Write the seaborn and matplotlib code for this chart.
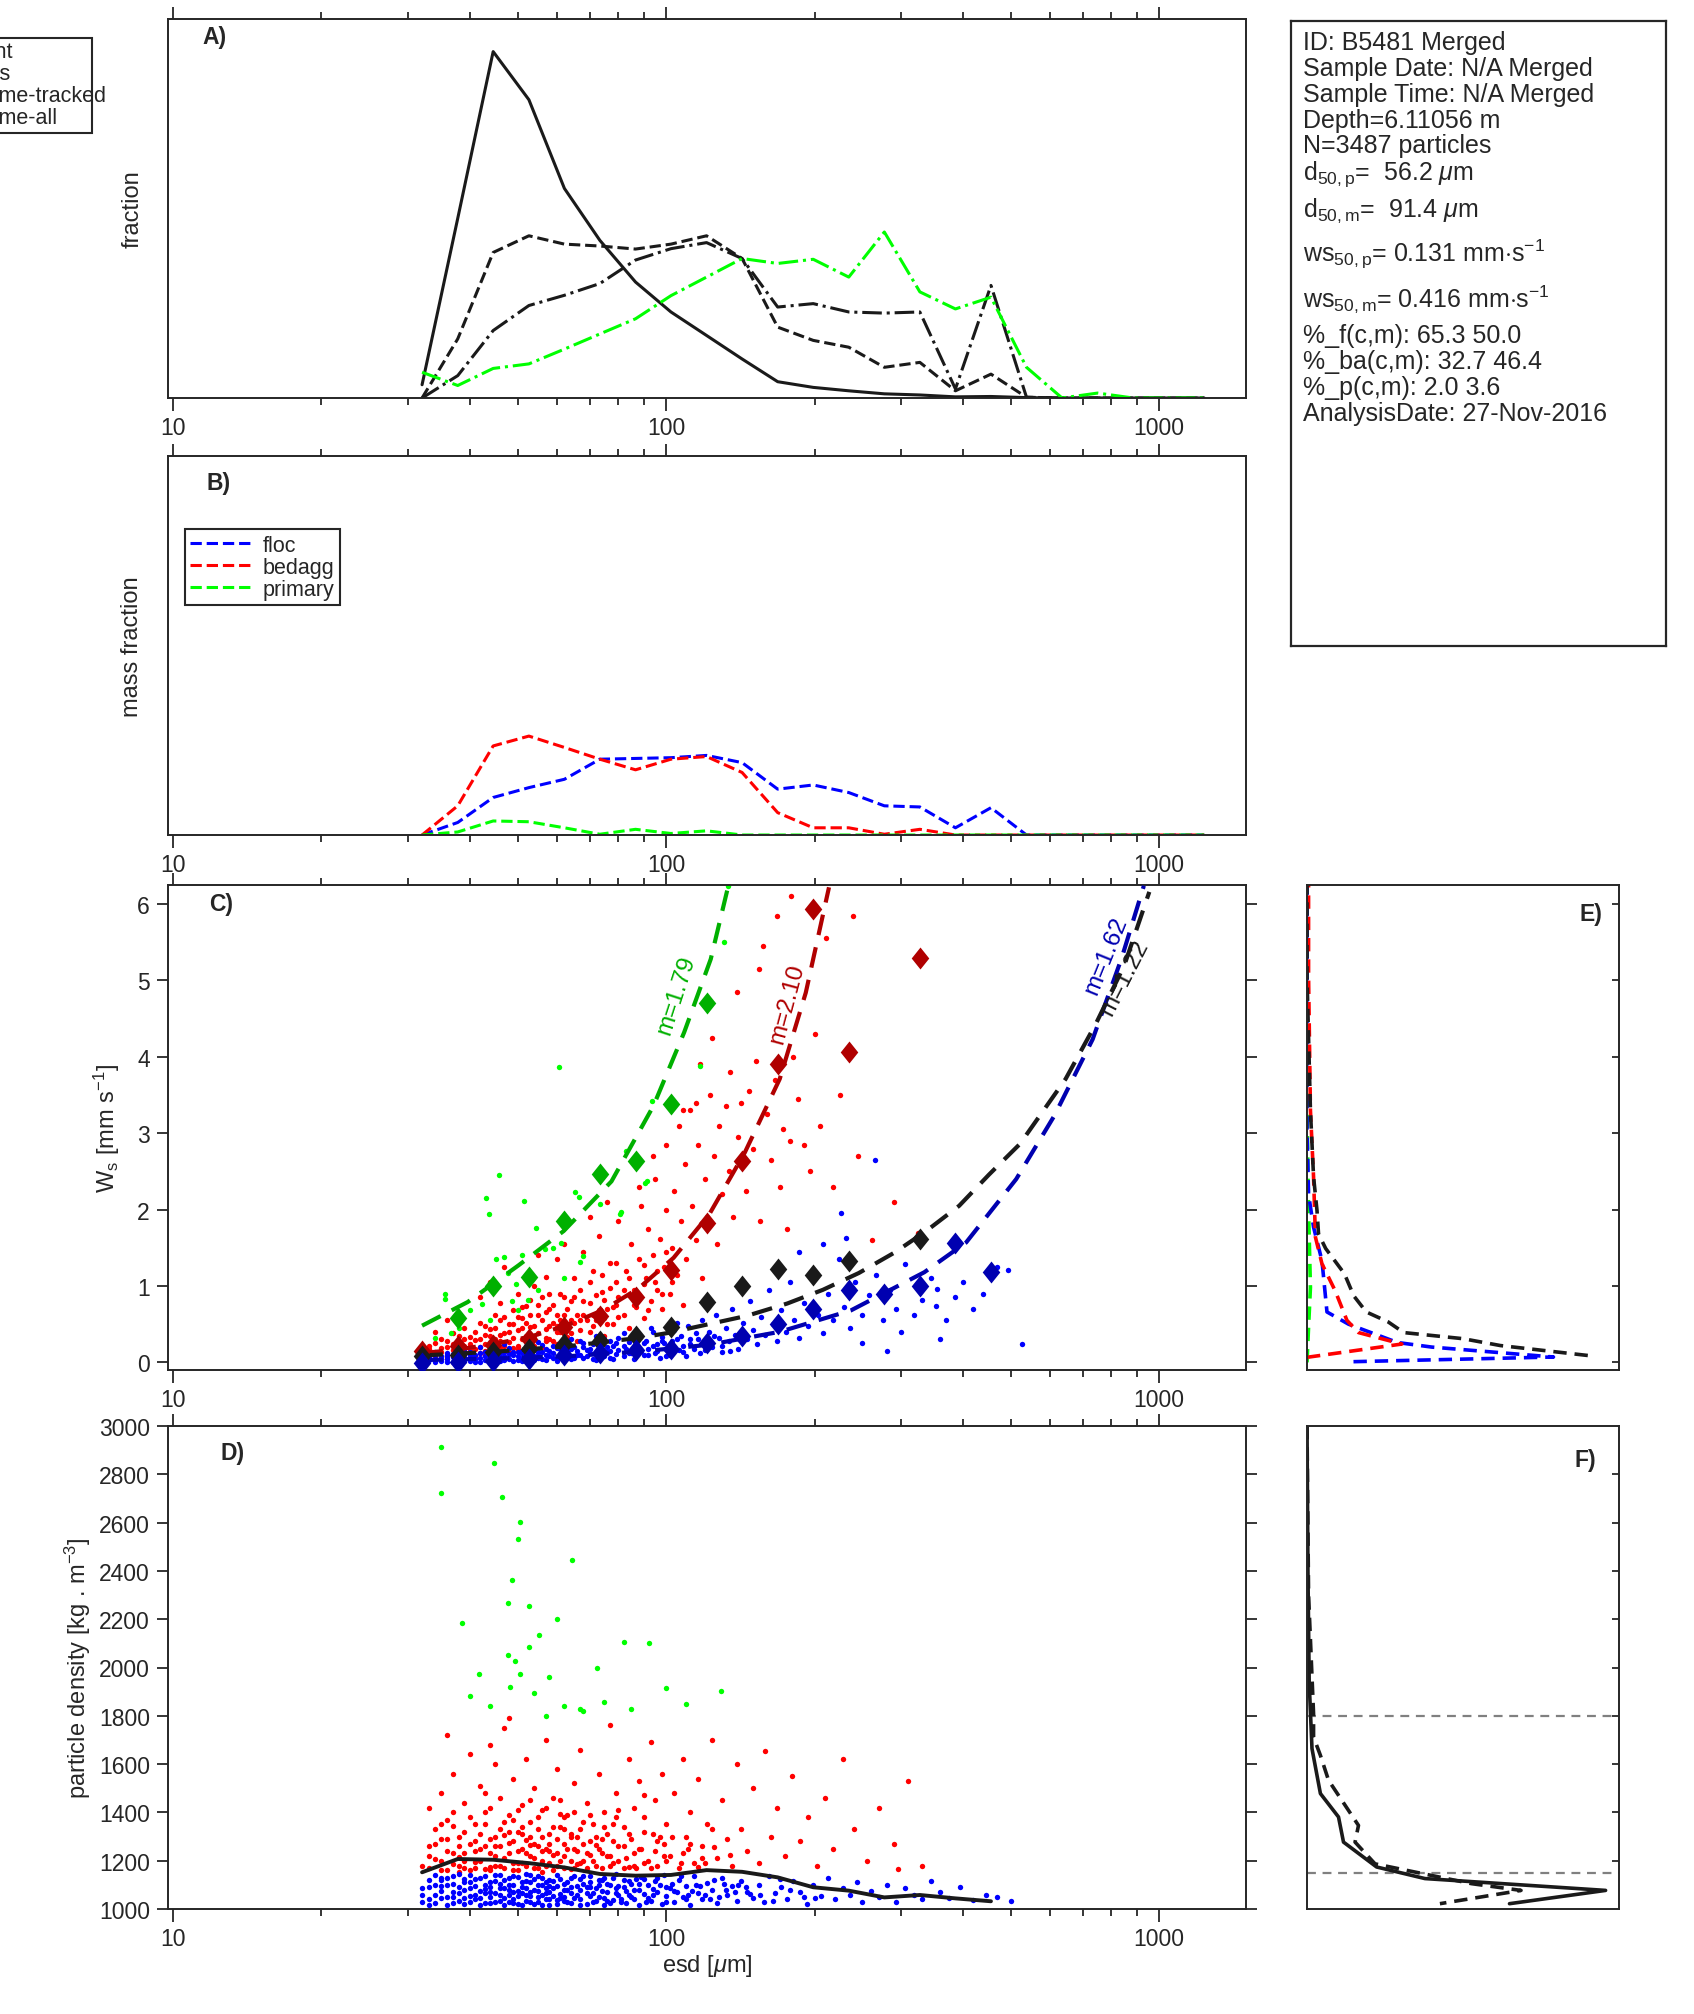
import numpy as np
import pandas as pd
import seaborn as sns
import matplotlib.pyplot as plt
from matplotlib.patches import Rectangle
from matplotlib.ticker import FixedLocator, LogLocator, NullFormatter

# ---------------- data ----------------
# size bins (esd, um) used in panels A-D
bins = [32, 37.8, 44.6, 52.7, 62.2, 73.4, 86.7, 102.3, 120.8, 142.6, 168.4, 198.8,
        234.7, 277.1, 327.1, 386.2, 455.9, 538.2, 635.4, 750.1, 885.5, 1045, 1234]

# panel A: fractions (relative to panel height)
frac_count = [0.035, 0.474, 0.914, 0.787, 0.553, 0.416, 0.306, 0.227, 0.165, 0.103, 0.043, 0.028,
              0.019, 0.011, 0.008, 0.003, 0.004, 0.001, 0, 0, 0, 0, 0]
frac_mass = [0, 0.156, 0.384, 0.428, 0.406, 0.401, 0.393, 0.406, 0.428, 0.368, 0.187, 0.152,
             0.134, 0.081, 0.094, 0.019, 0.063, 0.002, 0, 0, 0, 0, 0]
frac_vol_tracked = [0, 0.059, 0.178, 0.244, 0.271, 0.302, 0.364, 0.394, 0.410, 0.368, 0.240, 0.249,
                    0.227, 0.224, 0.227, 0.024, 0.297, 0.002, 0, 0, 0, 0, 0]
frac_vol_all = [0.068, 0.033, 0.078, 0.090, 0.129, 0.169, 0.209, 0.270, 0.319, 0.368, 0.355, 0.366,
                0.319, 0.438, 0.280, 0.235, 0.266, 0.081, 0, 0.013, 0, 0, 0]
legend_a = ['count', 'mass', 'volume-tracked', 'volume-all']

# panel B: mass fraction per class
mf_floc = [0, 0.033, 0.099, 0.125, 0.147, 0.200, 0.202, 0.204, 0.210, 0.191, 0.121, 0.132,
           0.112, 0.077, 0.074, 0.019, 0.072, 0, 0, 0, 0, 0, 0]
mf_bedagg = [0, 0.077, 0.235, 0.261, 0.231, 0.200, 0.172, 0.200, 0.207, 0.165, 0.059, 0.019,
             0.019, 0.002, 0.015, 0, 0, 0, 0, 0, 0, 0, 0]
mf_primary = [0, 0.008, 0.037, 0.035, 0.019, 0.002, 0.015, 0.004, 0.011, 0, 0, 0,
              0, 0, 0, 0, 0, 0, 0, 0, 0, 0, 0]

# panel C: settling velocity scatter (esd, ws)
c_red = [(32,0.05),(33,0.11),(33,0.18),(34,0.08),(34,0.26),(35,0.14),(35,0.31),(36,0.09),(36,0.20),(37,0.38),
         (37,0.16),(38,0.12),(38,0.27),(39,0.21),(39,0.45),(40,0.10),(40,0.33),(36,0.55),(38,0.62),(34,0.40),
         (41,0.18),(41,0.29),(42,0.52),(42,0.12),(43,0.36),(43,0.24),(44,0.15),(44,0.44),(45,0.30),(45,0.62),
         (46,0.20),(46,0.78),(47,0.38),(47,0.13),(48,0.50),(48,0.27),(49,0.68),(49,0.19),(50,0.42),(50,0.90),
         (44,1.05),(47,1.25),(42,0.85),(51,0.30),(51,0.58),(52,0.16),(52,0.74),(53,0.46),(53,0.25),(54,1.00),
         (54,0.35),(55,0.62),(56,0.20),(56,0.85),(57,0.44),(57,1.12),(58,0.30),(58,0.70),(59,0.52),(60,1.35),
         (60,0.24),(61,0.90),(61,0.40),(62,0.62),(62,1.55),(55,1.40),(63,0.33),(64,0.80),(65,0.52),(65,1.10),
         (66,0.28),(67,0.95),(68,0.62),(68,1.45),(70,0.40),(70,0.78),(71,1.20),(72,0.55),(73,1.65),(74,0.92),
         (75,0.35),(76,0.70),(77,1.30),(78,0.50),(79,1.05),(80,0.85),(80,1.85),(76,2.10),(70,1.90),(82,0.62),
         (83,1.20),(84,0.45),(85,1.55),(86,0.95),(87,0.72),(88,1.35),(89,2.05),(90,0.58),(91,1.10),(92,1.75),
         (93,0.80),(94,1.40),(95,2.40),(96,0.95),(97,1.62),(98,0.70),(99,1.25),(100,2.00),(100,2.85),(94,2.70),
         (88,2.30),(102,0.90),(103,1.50),(104,2.25),(105,1.15),(106,3.10),(107,1.85),(108,0.75),(109,2.60),(110,1.35),
         (112,3.30),(113,2.05),(115,1.60),(116,2.85),(117,3.90),(118,1.10),(120,2.40),(121,1.90),(123,3.50),(124,4.25),
         (125,2.70),(127,1.55),(128,3.10),(130,2.20),(115,3.40),(108,3.30),(132,3.35),(134,2.50),(135,3.80),(137,1.90),
         (139,4.85),(140,2.95),(142,3.40),(145,2.25),(147,3.55),(150,2.80),(152,3.95),(154,5.15),(155,1.85),(157,5.45),
         (160,3.25),(163,2.65),(166,3.70),(168,5.85),(170,2.30),(173,3.05),(176,1.75),(179,6.10),(181,4.00),(178,2.90),
         (185,3.45),(190,2.85),(196,2.50),(200,4.30),(205,3.10),(211,5.55),(218,2.29),(225,3.50),(239,5.84),(245,2.70),
         (262,1.60),(290,2.10),(325,1.70),(36,0.07),(39,0.15),(43,0.10),(46,0.28),(50,0.22),(53,0.36),(57,0.28),
         (60,0.48),(64,0.38),(67,0.55),(71,0.62),(75,0.58),(79,0.75),(84,0.88),(90,1.02),(96,1.20),(103,1.05),
         (32,0.09),(32,0.16),(33,0.22),(34,0.12),(35,0.05),(35,0.19),(36,0.28),(37,0.10),(37,0.24),(38,0.06),
         (38,0.35),(39,0.11),(39,0.30),(40,0.18),(40,0.24),(41,0.08),(41,0.40),(42,0.20),(42,0.30),(43,0.15),
         (43,0.48),(44,0.26),(44,0.34),(45,0.12),(45,0.45),(46,0.36),(46,0.55),(47,0.22),(47,0.60),(48,0.14),
         (48,0.40),(49,0.32),(49,0.50),(50,0.18),(50,0.60),(51,0.45),(51,0.72),(52,0.35),(52,0.52),(53,0.62),
         (53,0.82),(54,0.22),(54,0.48),(55,0.38),(55,0.75),(56,0.55),(57,0.32),(57,0.66),(58,0.48),(58,0.90),
         (59,0.28),(59,0.75),(60,0.62),(60,0.40),(61,0.55),(62,0.85),(62,0.45),(63,0.70),(64,0.55),(65,0.85),
         (66,0.62),(67,0.42),(68,0.80),(69,0.55),(70,1.05),(71,0.48),(72,0.88),(73,0.68),(74,1.15),(75,0.82),
         (76,0.50),(77,0.98),(78,0.72),(79,1.30),(80,0.60),(82,0.95),(84,1.10),(86,0.75),(88,0.88),(90,1.28),
         (92,0.68),(95,1.05),(98,0.90),(100,1.45)]
c_blue = [(32,0.01),(32,0.06),(33,0.03),(33,0.10),(34,0.00),(34,0.05),(35,0.08),(35,0.02),(36,0.12),(36,0.04),
          (37,0.07),(37,0.01),(38,0.10),(38,0.03),(39,0.15),(39,0.06),(40,0.02),(40,0.09),(41,0.05),(42,0.12),
          (42,0.01),(43,0.08),(44,0.04),(44,0.16),(45,0.10),(46,0.02),(46,0.07),(47,0.13),(48,0.05),(48,0.19),
          (49,0.09),(50,0.03),(50,0.14),(51,0.06),(52,0.11),(52,0.21),(53,0.02),(54,0.08),(54,0.16),(55,0.12),
          (56,0.04),(56,0.23),(57,0.09),(58,0.15),(59,0.06),(60,0.19),(60,0.02),(61,0.11),(62,0.26),(62,0.07),
          (63,0.14),(64,0.04),(65,0.20),(66,0.10),(67,0.28),(68,0.06),(69,0.16),(70,0.12),(71,0.24),(72,0.03),
          (73,0.18),(74,0.09),(75,0.30),(76,0.14),(77,0.06),(78,0.22),(79,0.11),(80,0.32),(82,0.08),(83,0.18),
          (84,0.27),(85,0.12),(86,0.05),(87,0.22),(88,0.35),(89,0.15),(90,0.09),(91,0.28),(92,0.18),(94,0.40),
          (95,0.12),(96,0.24),(97,0.06),(98,0.33),(100,0.18),(102,0.10),(103,0.28),(104,0.42),(106,0.16),(107,0.35),
          (108,0.22),(110,0.08),(111,0.48),(112,0.30),(114,0.18),(115,0.38),(117,0.12),(118,0.55),(120,0.26),(122,0.40),
          (124,0.20),(126,0.62),(128,0.32),(130,0.14),(132,0.45),(134,0.28),(136,0.70),(138,0.36),(140,0.18),(143,0.52),
          (146,0.30),(148,0.80),(150,0.42),(153,0.24),(156,0.60),(159,0.36),(162,0.95),(165,0.50),(168,0.28),(171,0.68),
          (175,0.40),(178,1.05),(182,0.55),(186,0.32),(190,0.78),(194,0.48),(198,1.20),(203,0.62),(208,0.38),(213,0.90),
          (218,0.55),(224,1.35),(230,0.72),(236,0.45),(186,1.45),(208,1.55),(226,1.95),(232,1.63),(265,2.65),(242,1.05),
          (250,0.62),(258,0.88),(266,1.15),(275,0.55),(284,0.95),(293,0.70),(305,1.29),(318,0.62),(331,0.81),(345,1.10),
          (352,0.74),(355,0.96),(370,0.55),(385,0.85),(400,1.05),(420,0.70),(440,0.90),(470,1.25),(493,1.21),(528,0.24),
          (300,0.40),(360,0.30),(250,0.25),(280,0.15),(34,0.13),(38,0.17),(42,0.20),(47,0.24),(51,0.15),(55,0.27),
          (59,0.22),(64,0.30),(68,0.25),(72,0.34),(77,0.28),(82,0.38),(86,0.30),(93,0.45),(99,0.26),(105,0.52),
          (32,0.03),(33,0.07),(34,0.09),(35,0.05),(36,0.01),(36,0.08),(37,0.11),(38,0.05),(39,0.02),(39,0.10),
          (40,0.13),(40,0.05),(41,0.09),(41,0.01),(42,0.06),(43,0.03),(43,0.14),(44,0.09),(45,0.05),(45,0.15),
          (46,0.12),(47,0.08),(47,0.03),(48,0.11),(49,0.14),(49,0.02),(50,0.08),(51,0.12),(51,0.02),(52,0.06),
          (53,0.15),(53,0.09),(54,0.03),(55,0.18),(55,0.06),(56,0.13),(57,0.03),(57,0.17),(58,0.08),(59,0.12),
          (60,0.06),(61,0.18),(62,0.14),(63,0.08),(64,0.17),(65,0.06),(66,0.15),(67,0.10),(68,0.20),(69,0.08),
          (70,0.18),(71,0.05),(72,0.14),(73,0.25),(74,0.16),(75,0.08),(76,0.20),(77,0.15),(78,0.05),(79,0.25),
          (80,0.16),(82,0.22),(84,0.12),(86,0.30),(88,0.18),(90,0.25),(92,0.10),(94,0.22),(96,0.15),(98,0.28),
          (100,0.08),(102,0.22),(105,0.30),(108,0.14),(112,0.24),(116,0.30),(120,0.16),(125,0.35),(130,0.22),(135,0.15)]
c_green = [(35.6,0.90),(35.6,0.83),(36.6,0.39),(40.1,0.68),(42.4,0.76),(43.2,2.15),(43.8,1.94),(45.9,2.45),
           (45.2,1.35),(46.9,1.38),(47.9,1.17),(48.8,0.80),(49.6,1.03),(50.2,0.68),(51.1,1.40),(51.6,2.11),
           (52.4,0.81),(54.6,1.76),(56.9,1.48),(59.1,1.50),(61.1,1.56),(65.3,2.23),(66.5,2.17),(66.8,1.31),
           (68.0,1.39),(81.1,1.97),(91.3,2.37),(60.7,3.87),(133.5,6.24),(131,5.51),(117,3.88),(93.6,3.42),
           (82.8,2.77),(90.6,2.35),(80.5,1.94),(73.5,2.07),(34,0.32),(38,0.45),(44,0.55),(55,0.95),(62,1.10)]

# panel C: bin medians (diamonds); None = no marker in that bin
dia_green = [0.58, 1.00, 1.12, 1.85, 2.47, 2.64, 3.38, 4.70]               # bins 1..8
dia_red = [0.15, 0.21, 0.23, 0.31, 0.46, 0.61, 0.86, 1.21, 1.82, 2.64, 3.90, 5.93, 4.06, None, 5.30]
dia_black = [0.08, 0.10, 0.13, 0.17, 0.24, 0.28, 0.34, 0.46, 0.79, 1.00, 1.22, 1.14, 1.33, None, 1.62]
dia_blue = [-0.01, 0.00, 0.02, 0.05, 0.09, 0.12, 0.16, 0.17, 0.26, 0.35, 0.50, 0.70, 0.95, 0.90, 1.00, 1.56, 1.18]

# panel C: fitted curves (esd, ws) and their labels
fit_green = [(32,0.48),(39.6,0.79),(50.2,1.27),(62,1.72),(77.5,2.37),(94.3,3.36),(108.8,4.32),(123.2,5.28),(133.5,6.22)]
fit_red = [(32,0.12),(38,0.17),(45.5,0.25),(53.3,0.34),(63.2,0.49),(74.8,0.69),(88,0.97),(103.6,1.37),
           (122.4,1.94),(144.5,2.75),(170,3.71),(192,4.84),(214,6.22)]
fit_blue = [(32,0.03),(45,0.05),(63,0.08),(88,0.14),(122,0.23),(170,0.40),(237,0.68),(334,1.18),(406,1.57),
            (513,2.40),(613,3.23),(733,4.23),(840,5.30),(931,6.24)]
fit_black = [(32,0.09),(45,0.14),(63,0.21),(88,0.32),(102,0.39),(146,0.61),(176,0.77),(208,0.95),(246,1.17),
             (291,1.44),(337,1.72),(393,2.05),(452,2.46),(522,2.86),(646,3.71),(745,4.44),(850,5.20),(955,6.16)]
fit_labels = ['m=1.79', 'm=2.10', 'm=1.62', 'm=1.22']

# panel D: particle density scatter (esd, rho)
d_blue = [(32,1030),(32,1085),(33,1015),(33,1120),(34,1060),(34,1140),(35,1045),(35,1095),(36,1018),(36,1130),
          (37,1070),(37,1105),(38,1035),(38,1145),(39,1080),(39,1022),(40,1110),(40,1055),(41,1040),(41,1125),
          (42,1075),(42,1016),(43,1098),(43,1138),(44,1050),(44,1025),(45,1115),(45,1068),(46,1140),(46,1035),
          (47,1088),(47,1015),(48,1128),(48,1058),(49,1100),(49,1042),(50,1075),(50,1133),(51,1018),(51,1092),
          (52,1060),(52,1145),(53,1030),(53,1112),(54,1080),(55,1050),(55,1135),(56,1016),(56,1098),(57,1068),
          (58,1122),(58,1040),(59,1085),(60,1020),(60,1142),(61,1062),(62,1105),(62,1033),(63,1078),(64,1128),
          (65,1045),(66,1095),(67,1015),(68,1138),(69,1065),(70,1110),(71,1028),(72,1085),(73,1050),(74,1120),
          (75,1018),(76,1072),(77,1100),(78,1038),(79,1145),(80,1058),(82,1090),(83,1025),(84,1118),(85,1048),
          (86,1078),(88,1016),(89,1132),(90,1062),(92,1098),(93,1035),(95,1115),(96,1070),(98,1022),(99,1140),
          (100,1055),(102,1088),(104,1030),(106,1122),(108,1050),(110,1095),(112,1018),(114,1138),(116,1068),(118,1040),
          (121,1108),(124,1078),(127,1025),(130,1130),(133,1058),(136,1095),(139,1035),(142,1118),(146,1072),(150,1045),
          (154,1100),(158,1028),(162,1135),(166,1065),(171,1090),(176,1040),(181,1115),(187,1070),(193,1020),(199,1098),
          (206,1055),(213,1128),(220,1040),(228,1085),(236,1060),(244,1110),(250,1030),(260,1075),(270,1050),(280,1100),
          (292,1030),(305,1085),(318,1060),(330,1040),(345,1115),(360,1070),(375,1045),(395,1090),(420,1038),(445,1060),
          (470,1048),(500,1035),(34,1100),(37,1050),(40,1085),(43,1065),(46,1105),(49,1025),(52,1118),(55,1075),
          (58,1095),(61,1045),(64,1068),(67,1125),(70,1052),(73,1098),(76,1035),(79,1088),(84,1060),(88,1105),
          (92,1045),(96,1130),(100,1090),(105,1070),(110,1040),(115,1100),(120,1060),(125,1120),(132,1080),(140,1100),
          (148,1062),(35,1120),(39,1110),(44,1090),(48,1080),(53,1052),(57,1110),(63,1030),(69,1090),(75,1130),
          (81,1040),(87,1125),(94,1082),(103,1105),(113,1075),(128,1050),(145,1090),(170,1125),(190,1050),
          (32,1060),(33,1090),(33,1040),(34,1025),(35,1075),(35,1130),(36,1050),(36,1100),(37,1025),(37,1135),
          (38,1065),(38,1090),(39,1045),(39,1125),(40,1030),(40,1140),(41,1095),(41,1060),(42,1045),(42,1130),
          (43,1025),(43,1082),(44,1110),(44,1070),(45,1030),(45,1142),(46,1060),(46,1085),(47,1045),(47,1120),
          (48,1030),(48,1100),(49,1070),(49,1136),(50,1020),(50,1055),(51,1110),(51,1065),(52,1035),(52,1085),
          (53,1140),(53,1070),(54,1020),(54,1125),(55,1100),(55,1030),(56,1060),(56,1130),(57,1040),(57,1085),
          (58,1015),(58,1070),(59,1115),(59,1055),(60,1095),(60,1038),(61,1125),(62,1080),(62,1050),(63,1110),
          (64,1025),(64,1090),(65,1135),(66,1060),(67,1080),(67,1040),(68,1105),(69,1020),(70,1090),(70,1135),
          (71,1065),(72,1035),(73,1120),(74,1075),(75,1045),(76,1105),(77,1025),(78,1130),(79,1065),(80,1095),
          (81,1030),(82,1120),(83,1075),(85,1105),(86,1040),(88,1080),(90,1125),(91,1030),(94,1060),(97,1100),
          (100,1030),(104,1075),(107,1135),(111,1060),(117,1095),(123,1040),(131,1105),(138,1070),(155,1060),(165,1035),
          (178,1080),(200,1045)]
d_red = [(32,1180),(33,1260),(33,1420),(34,1205),(34,1330),(35,1160),(35,1480),(36,1240),(36,1370),(37,1185),
         (37,1560),(38,1300),(38,1215),(39,1440),(39,1170),(40,1270),(40,1640),(36,1720),(41,1195),(41,1350),
         (42,1250),(42,1510),(43,1165),(43,1400),(44,1290),(44,1230),(45,1600),(45,1180),(46,1330),(46,1460),
         (47,1210),(47,1750),(48,1275),(48,1390),(49,1160),(49,1540),(50,1240),(50,1320),(44,1680),(48,1790),
         (51,1190),(51,1430),(52,1285),(52,1620),(53,1220),(53,1360),(54,1170),(54,1500),(55,1260),(56,1410),
         (56,1200),(57,1700),(58,1310),(58,1240),(59,1460),(60,1180),(60,1580),(61,1340),(62,1220),(62,1270),
         (63,1390),(64,1165),(65,1520),(65,1250),(66,1300),(67,1660),(68,1200),(69,1440),(70,1280),(71,1350),
         (72,1180),(73,1560),(74,1230),(75,1400),(76,1310),(77,1760),(78,1190),(79,1480),(80,1260),(82,1340),
         (83,1210),(84,1620),(85,1290),(86,1420),(87,1170),(88,1530),(89,1250),(90,1380),(92,1200),(93,1690),
         (94,1310),(95,1450),(96,1180),(98,1560),(99,1270),(100,1350),(102,1220),(104,1480),(106,1170),(108,1620),
         (110,1300),(112,1400),(114,1190),(116,1540),(118,1260),(121,1350),(124,1700),(127,1210),(130,1450),(133,1290),
         (136,1180),(139,1600),(142,1330),(146,1240),(150,1500),(154,1190),(159,1654),(163,1300),(168,1420),(174,1220),
         (180,1550),(187,1280),(194,1380),(202,1180),(210,1460),(218,1250),(228,1620),(240,1330),(255,1200),(270,1420),
         (290,1270),(296,1165),(310,1530),(330,1180),(35,1290),(38,1155),(41,1280),(44,1175),(47,1305),(50,1190),
         (53,1265),(56,1155),(59,1225),(62,1330),(66,1185),(70,1225),(74,1290),(78,1350),(82,1170),(86,1230),
         (90,1190),(95,1240),(100,1200),(108,1230),(116,1175),(125,1255),(37,1345),(43,1480),(49,1370),(55,1330),
         (61,1395),(68,1360),(80,1410),(90,1470),(39,1230),(45,1260),(51,1310),(57,1250),(64,1300),(72,1265),
         (77,1220),(84,1175),(97,1300),(111,1250),(120,1190),(135,1225),
         (33,1170),(33,1220),(34,1270),(35,1200),(35,1350),(36,1160),(36,1290),(37,1230),(37,1400),(38,1180),
         (38,1260),(39,1320),(39,1200),(40,1160),(40,1380),(41,1240),(41,1170),(42,1310),(42,1200),(43,1260),
         (43,1350),(44,1160),(44,1420),(45,1220),(45,1300),(46,1180),(46,1260),(47,1360),(47,1170),(48,1230),
         (48,1320),(49,1190),(49,1280),(50,1410),(50,1160),(51,1250),(51,1340),(52,1180),(52,1230),(53,1300),
         (53,1450),(54,1210),(54,1270),(55,1170),(55,1380),(56,1240),(56,1300),(57,1180),(57,1420),(58,1270),
         (58,1190),(59,1340),(59,1160),(60,1230),(60,1290),(61,1200),(61,1450),(62,1170),(62,1380),(63,1250),
         (64,1310),(64,1200),(65,1170),(65,1400),(66,1240),(67,1190),(67,1330),(68,1270),(69,1170),(69,1230),
         (70,1390),(71,1200),(72,1300),(73,1250),(74,1170),(75,1340),(76,1220),(77,1180),(78,1280),(79,1380),
         (80,1200),(82,1260),(84,1310),(86,1180),(88,1250),(90,1320),(93,1170),(96,1280),(99,1220),(103,1300),
         (107,1190),(112,1270),(118,1210),(124,1330)]
d_green = [(35,2915),(35,2723),(44.8,2846),(46.4,2707),(50,2532),(64.5,2447),(50.5,2601),(47.8,2266),(52.7,2255),
           (82,2106),(92.3,2101),(129,1904),(60,2202),(48.7,2362),(52.8,2085),(50.5,1973),(48.3,1920),(54,1894),
           (57,1798),(62,1840),(66.8,1830),(38.5,2186),(41.8,1973),(44,1840),(47.8,2053),(49.5,2027),(55.3,2133),
           (72.3,2000),(75,1856),(99.9,1915),(40,1880),(58,1960),(68,1820),(85,1830),(110,1850)]

# panel D: median density per bin (bins 0..16)
rho_median = [1152, 1207, 1204, 1190, 1172, 1145, 1138, 1141, 1161, 1154, 1131, 1090, 1076, 1048, 1058, 1044, 1032]

# panel E: ws distributions (fraction, ws)
e_black = [(0.90,0.09),(0.62,0.22),(0.50,0.31),(0.31,0.39),(0.26,0.53),(0.19,0.66),(0.15,0.87),(0.12,1.16),
           (0.06,1.49),(0.037,1.68),(0.032,1.99),(0.021,2.43),(0.011,3.30),(0.0,5.05),(0.0,6.27)]
e_red = [(0.0,0.066),(0.304,0.24),(0.165,0.39),(0.128,0.55),(0.09,0.94),(0.048,1.29),(0.027,1.64),(0.021,2.43),
         (0.011,3.30),(0.005,5.05),(0.005,6.27)]
e_blue = [(0.149,0.009),(0.79,0.07),(0.40,0.20),(0.29,0.26),(0.133,0.50),(0.064,0.66),(0.048,1.33),(0.021,1.77),
          (0.005,2.20),(0.0,3.05),(0.0,6.27)]
e_green = [(0.0,0.0),(0.005,0.46),(0.011,0.98),(0.005,1.99),(0.0,3.30),(0.0,6.27)]

# panel F: density distributions (fraction, rho)
f_solid = [(0.0,3000),(0.003,2400),(0.007,1940),(0.016,1664),(0.043,1478),(0.101,1381),(0.117,1277),(0.223,1174),
           (0.378,1126),(0.957,1077),(0.649,1022)]
f_dashed = [(0.0,3000),(0.005,2300),(0.021,1809),(0.021,1712),(0.043,1636),(0.069,1533),(0.165,1346),(0.154,1277),
            (0.218,1187),(0.527,1105),(0.686,1077),(0.426,1022)]
rho_limits = [1150, 1800]

info_lines = ['ID: B5481 Merged', 'Sample Date: N/A Merged', 'Sample Time: N/A Merged', 'Depth=6.11056 m',
              'N=3487 particles', r'd$_{\mathrm{50,p}}$=  56.2 $\mu$m', r'd$_{\mathrm{50,m}}$=  91.4 $\mu$m',
              r'ws$_{\mathrm{50,p}}$= 0.131 mm$\cdot$s$^{\mathrm{-1}}$',
              r'ws$_{\mathrm{50,m}}$= 0.416 mm$\cdot$s$^{\mathrm{-1}}$',
              '%_f(c,m): 65.3 50.0', '%_ba(c,m): 32.7 46.4', '%_p(c,m): 2.0 3.6', 'AnalysisDate: 27-Nov-2016']
info_baselines = [50, 76, 101.7, 128, 153, 180, 216.7, 261.7, 306.7, 343, 369, 395, 420.7]

# ---------------- style ----------------
sns.set_theme(style='ticks')
plt.rcParams['font.family'] = ['Liberation Sans', 'DejaVu Sans']
plt.rcParams['mathtext.fontset'] = 'custom'
plt.rcParams['mathtext.rm'] = 'Liberation Sans'
plt.rcParams['mathtext.it'] = 'Liberation Sans:italic'
plt.rcParams['mathtext.bf'] = 'Liberation Sans:bold'
plt.rcParams['font.size'] = 17
plt.rcParams['axes.edgecolor'] = '#262626'
plt.rcParams['axes.linewidth'] = 1.4
plt.rcParams['xtick.color'] = '#262626'
plt.rcParams['ytick.color'] = '#262626'

TICK_FS, LABEL_FS, LETTER_FS, LEG_FS = 16.5, 17, 16.5, 15.5

W, H = 1694, 2015
fig = plt.figure(figsize=(W / 100, H / 100), dpi=100)


def add_ax(x0, y0, x1, y1):
    return fig.add_axes([x0 / W, 1 - y1 / H, (x1 - x0) / W, (y1 - y0) / H])


def style_logx(ax):
    ax.set_xscale('log')
    ax.set_xlim(9.77, 1500)
    ax.xaxis.set_major_locator(FixedLocator([10, 100, 1000]))
    ax.set_xticklabels(['10', '100', '1000'], fontsize=TICK_FS)
    ax.xaxis.set_minor_locator(LogLocator(base=10, subs=np.arange(2, 10)))
    ax.xaxis.set_minor_formatter(NullFormatter())
    ax.tick_params(axis='x', which='both', direction='out', top=True, bottom=True, width=1.3, pad=4)
    ax.tick_params(axis='x', which='major', length=9)
    ax.tick_params(axis='x', which='minor', length=5)


def xy(pairs):
    return [p[0] for p in pairs], [p[1] for p in pairs]


dkgreen, dkred, dkblue = '#00b000', '#b00000', '#0000b0'

# ---------------- panel A ----------------
ax_a = add_ax(168, 20, 1246, 399)
ax_a.plot(bins, frac_count, color='k', lw=2.2, ls='-')
ax_a.plot(bins, frac_mass, color='k', lw=2.2, ls='--')
ax_a.plot(bins, frac_vol_tracked, color='k', lw=2.2, ls='-.')
ax_a.plot(bins, frac_vol_all, color='#00ff00', lw=2.2, ls='-.')
style_logx(ax_a)
ax_a.set_ylim(0, 1)
ax_a.set_yticks([])
ax_a.set_ylabel('fraction', fontsize=LABEL_FS)
ax_a.yaxis.set_label_coords(-0.023, 0.5)
ax_a.text(0.032, 0.955, 'A)', transform=ax_a.transAxes, fontweight='bold', va='center', fontsize=LETTER_FS)

# legend of panel A sits mostly outside the figure (cut off on the left, as in the original)
fig.add_artist(Rectangle((-10 / W, 1 - 134 / H), 102 / W, 95 / H, transform=fig.transFigure,
                         fill=False, lw=1.5, ec='#262626'))
for lab, yb in zip(legend_a, [52.3, 75, 96.7, 118.3]):
    fig.text(-40 / W, 1 - yb / H, lab, fontsize=LEG_FS, va='center', ha='left')

# ---------------- panel B ----------------
ax_b = add_ax(168, 457, 1246, 836)
ax_b.plot(bins, mf_floc, color='#0000ff', lw=2.2, ls='--', label='floc')
ax_b.plot(bins, mf_bedagg, color='#ff0000', lw=2.2, ls='--', label='bedagg')
ax_b.plot(bins, mf_primary, color='#00ff00', lw=2.2, ls='--', label='primary')
style_logx(ax_b)
ax_b.set_ylim(0, 1)
ax_b.set_yticks([])
ax_b.set_ylabel('mass fraction', fontsize=LABEL_FS)
ax_b.yaxis.set_label_coords(-0.023, 0.5)
ax_b.text(0.036, 0.931, 'B)', transform=ax_b.transAxes, fontweight='bold', va='center', fontsize=LETTER_FS)
leg = ax_b.legend(loc='upper left', bbox_to_anchor=(0.0158, 0.807), fancybox=False, framealpha=1,
                  edgecolor='#262626', borderpad=0.25, labelspacing=0.05, handlelength=2.9,
                  handletextpad=0.45, fontsize=LEG_FS, borderaxespad=0)
leg.get_frame().set_linewidth(1.5)

# ---------------- panel C ----------------
ax_c = add_ax(168, 886, 1246, 1371)
for pts, col in [(c_red, '#ff0000'), (c_blue, '#0000ff'), (c_green, '#00ff00')]:
    px, py = xy(pts)
    sns.scatterplot(x=px, y=py, ax=ax_c, color=col, s=15, linewidth=0, legend=False, zorder=2)

for fit, col in [(fit_green, dkgreen), (fit_red, dkred), (fit_blue, dkblue), (fit_black, 'k')]:
    fx, fy = xy(fit)
    ax_c.plot(fx, fy, color=col, lw=3, dashes=(5, 3), zorder=3)
labels_pos = [((105, 4.82), 72, dkgreen), ((176, 4.7), 75, dkred), ((782, 5.33), 68, dkblue), ((851, 5.04), 63, 'k')]
for lab, ((lx, ly), rot, col) in zip(fit_labels, labels_pos):
    ax_c.text(lx, ly, lab, color=col, rotation=rot, fontsize=17.5, ha='center', va='center', zorder=5)

dia = [(0.0, 1.0), (0.8, 0.0), (0.0, -1.0), (-0.8, 0.0), (0.0, 1.0)]
for vals, col, start in [(dia_green, dkgreen, 1), (dia_red, dkred, 0), (dia_black, 'k', 0), (dia_blue, dkblue, 0)]:
    dx = [bins[start + i] for i, v in enumerate(vals) if v is not None]
    dy = [v for v in vals if v is not None]
    ax_c.scatter(dx, dy, marker=dia, s=250, color=col, linewidths=0, zorder=4)

style_logx(ax_c)
ax_c.set_ylim(-0.1, 6.25)
ax_c.set_yticks(range(7))
ax_c.tick_params(axis='y', direction='out', left=True, right=True, length=8, width=1.3,
                 labelsize=TICK_FS, pad=5)
ax_c.set_ylabel(r'W$_\mathrm{s}$ [mm s$^{\mathrm{-1}}$]', fontsize=LABEL_FS)
ax_c.yaxis.set_label_coords(-0.043, 0.5)
ax_c.text(0.038, 0.961, 'C)', transform=ax_c.transAxes, fontweight='bold', va='center', fontsize=LETTER_FS)

# ---------------- panel D ----------------
ax_d = add_ax(168, 1427, 1246, 1910)
for pts, col in [(d_red, '#ff0000'), (d_blue, '#0000ff'), (d_green, '#00ff00')]:
    px, py = xy(pts)
    sns.scatterplot(x=px, y=py, ax=ax_d, color=col, s=15, linewidth=0, legend=False, zorder=2)
sns.lineplot(x=bins[:len(rho_median)], y=rho_median, ax=ax_d, color='k', lw=2.8, sort=False,
             estimator=None, zorder=3)
style_logx(ax_d)
ax_d.set_ylim(1000, 3000)
ax_d.set_yticks(range(1000, 3001, 200))
ax_d.tick_params(axis='y', direction='out', left=True, right=True, length=8, width=1.3,
                 labelsize=TICK_FS, pad=5)
ax_d.set_ylabel(r'particle density [kg . m$^{\mathrm{-3}}$]', fontsize=LABEL_FS)
ax_d.yaxis.set_label_coords(-0.07, 0.5)
ax_d.set_xlabel(r'esd [$\mu$m]', fontsize=LABEL_FS)
ax_d.xaxis.set_label_coords(0.5, -0.09)
ax_d.text(0.049, 0.946, 'D)', transform=ax_d.transAxes, fontweight='bold', va='center', fontsize=LETTER_FS)

# ---------------- panel E ----------------
ax_e = add_ax(1307, 886, 1619, 1371)
for pts, col in [(e_green, '#00ff00'), (e_blue, '#0000ff'), (e_red, '#ff0000'), (e_black, 'k')]:
    ex, ey = xy(pts)
    ax_e.plot(ex, ey, color=col, lw=2.6, dashes=(3.7, 2.2))
ax_e.set_xlim(0, 1)
ax_e.set_ylim(-0.1, 6.25)
ax_e.set_xticks([])
ax_e.set_yticks(range(7))
ax_e.tick_params(axis='y', direction='in', left=False, right=True, labelleft=False, length=5, width=1.3)
ax_e.text(0.872, 0.942, 'E)', transform=ax_e.transAxes, fontweight='bold', va='center', fontsize=LETTER_FS)

# ---------------- panel F ----------------
ax_f = add_ax(1307, 1427, 1619, 1910)
for r in rho_limits:
    ax_f.axhline(r, color='#808080', lw=1.6, dashes=(4, 3))
fx, fy = xy(f_solid)
ax_f.plot(fx, fy, color='k', lw=2.6)
fx, fy = xy(f_dashed)
ax_f.plot(fx, fy, color='k', lw=2.6, dashes=(3.7, 2.2))
ax_f.set_xlim(0, 1)
ax_f.set_ylim(1000, 3000)
ax_f.set_xticks([])
ax_f.set_yticks(range(1200, 2801, 200))
ax_f.tick_params(axis='y', direction='in', left=False, right=True, labelleft=False, length=5, width=1.3)
ax_f.text(0.856, 0.93, 'F)', transform=ax_f.transAxes, fontweight='bold', va='center', fontsize=LETTER_FS)

# ---------------- info box ----------------
ax_i = add_ax(1291, 22, 1666, 647)
ax_i.set_xticks([])
ax_i.set_yticks([])
for s in ax_i.spines.values():
    s.set_linewidth(1.6)
for line, yb in zip(info_lines, info_baselines):
    ax_i.text((1303 - 1291) / 375, 1 - (yb - 22) / 625, line, transform=ax_i.transAxes,
              fontsize=18, va='baseline', ha='left')

fig.savefig('out.png', dpi=100)
